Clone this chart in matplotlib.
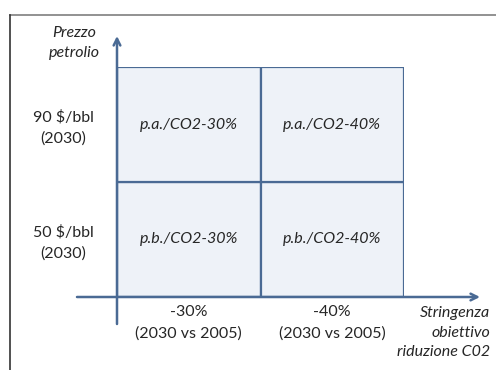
import matplotlib
matplotlib.use("Agg")
import matplotlib.pyplot as plt
from matplotlib.lines import Line2D

# dati
col_labels = ["-30%\n(2030 vs 2005)", "-40%\n(2030 vs 2005)"]
row_labels = ["50 $/bbl\n(2030)", "90 $/bbl\n(2030)"]
cell_labels = [
    ["p.b./CO2-30%", "p.b./CO2-40%"],
    ["p.a./CO2-30%", "p.a./CO2-40%"],
]
x_title = "Stringenza\nobiettivo\nriduzione C02"
y_title = "Prezzo\npetrolio"

linea = "#4a6a94"
riempimento = "#eef2f8"
testo = "#262626"
fs = 11.5
ls = 1.6

plt.rcParams["font.family"] = ["Lato", "DejaVu Sans"]

W, H = 496, 370
fig = plt.figure(figsize=(W / 100, H / 100), dpi=100)

# cornice
fig.add_artist(Line2D([10 / W, 1], [1 - 15 / H, 1 - 15 / H], color="#7f7f7f", lw=1.2))
fig.add_artist(Line2D([10 / W, 10 / W], [0, 1 - 15 / H], color="#333333", lw=1.2))

x0, x1 = 117, 404
y0, y1 = 67, 297
ax = fig.add_axes([x0 / W, 1 - y1 / H, (x1 - x0) / W, (y1 - y0) / H])
ax.set_xlim(0, 2)
ax.set_ylim(0, 2)
ax.axis("off")

px_x = 2 / (x1 - x0)
px_y = 2 / (y1 - y0)

# celle
for r in range(len(row_labels)):
    ax.bar(range(len(col_labels)), [1] * len(col_labels), width=1, bottom=r,
           align="edge", color=riempimento, edgecolor=linea, linewidth=1.6)
    for c in range(len(col_labels)):
        ax.text(c + 0.5, r + 0.5, cell_labels[r][c], ha="center", va="center",
                style="italic", fontsize=fs, color=testo)

# assi con freccia
ax.annotate("", xy=(2 + 76 * px_x, 0), xytext=(-40 * px_x, 0),
            arrowprops=dict(arrowstyle="->", color=linea, lw=1.8,
                            shrinkA=0, shrinkB=0, mutation_scale=12),
            annotation_clip=False)
ax.annotate("", xy=(0, 2 + 31 * px_y), xytext=(0, -27 * px_y),
            arrowprops=dict(arrowstyle="->", color=linea, lw=1.8,
                            shrinkA=0, shrinkB=0, mutation_scale=12),
            annotation_clip=False)

# etichette
for c, lab in enumerate(col_labels):
    ax.text(c + 0.5, -26 * px_y, lab, ha="center", va="center", fontsize=fs,
            color=testo, linespacing=ls, clip_on=False)
for r, lab in enumerate(row_labels):
    ax.text(-54 * px_x, r + 0.5 - 3 * px_y, lab, ha="center", va="center", fontsize=fs,
            color=testo, linespacing=ls, clip_on=False)

ax.text(2 + 86 * px_x, -36 * px_y, x_title, ha="right", va="center", style="italic",
        fontsize=fs, color=testo, linespacing=1.5, multialignment="right",
        clip_on=False)
ax.text(-43 * px_x, 2 + 24 * px_y, y_title, ha="center", va="center", style="italic",
        fontsize=fs, color=testo, linespacing=1.5, multialignment="center",
        clip_on=False)

fig.savefig("out.png", dpi=100, facecolor="white")
